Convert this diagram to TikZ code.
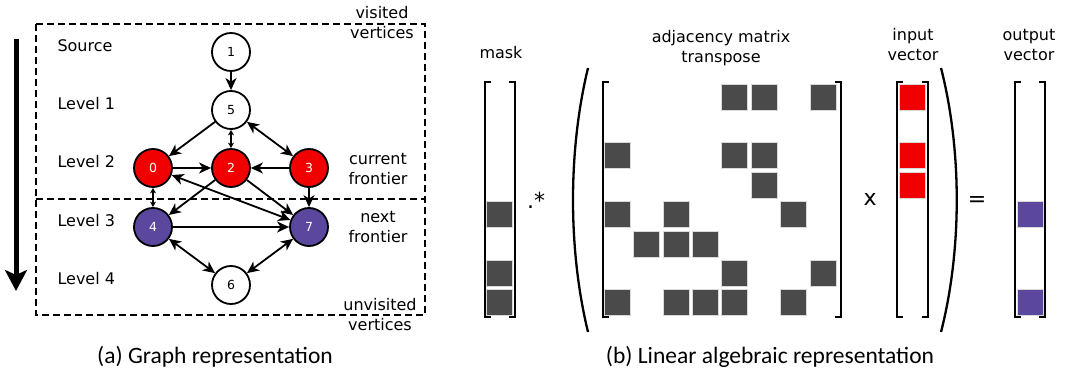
\documentclass[tikz,border=0pt]{standalone}
\usepackage{fontspec}
\setmainfont{DejaVu Sans}
\newfontfamily\capfont{Carlito}
\usetikzlibrary{arrows.meta}
\definecolor{frontred}{RGB}{240,0,0}
\definecolor{nextpurple}{RGB}{91,71,158}
\definecolor{cellgray}{RGB}{74,74,74}

% Pair of square brackets from x=#1 to x=#2
\newcommand{\drawbrackets}[2]{
    % left bracket
    \draw[line width=2.8pt] (#1+6,82) -- (#1,82) -- (#1,317) -- (#1+6,317);
    % right bracket
    \draw[line width=2.8pt] (#2-6,82) -- (#2,82) -- (#2,317) -- (#2-6,317);
}

% One filled cell, top left corner at (#1,#2)
\newcommand{\drawcell}[3]{
    \filldraw[fill=#3, draw=gray!30, line width=0.6pt] (#1,#2) rectangle ++(26,26);
}

\tikzset{
    vtx/.style={circle, draw, line width=1.8pt, minimum size=38pt, inner sep=0pt,
        fill=white, font=\fontsize{12.5}{14}\selectfont},
    frontier/.style={vtx, fill=frontred, text=white},
    nextfront/.style={vtx, fill=nextpurple, text=white},
    edge/.style={line width=1.8pt, -{Stealth[length=12pt,width=11pt,inset=3.5pt]}},
    bothedge/.style={line width=1.8pt, {Stealth[length=12pt,width=11pt,inset=3.5pt]}-{Stealth[length=12pt,width=11pt,inset=3.5pt]}},
    shortedge/.style={line width=1.4pt, {Stealth[length=5.5pt,width=6pt]}-{Stealth[length=5.5pt,width=6pt]}},
    lbl/.style={font=\fontsize{16}{20}\selectfont},
    sidelbl/.style={lbl, align=center, inner sep=0pt},
    opsym/.style={font=\fontsize{22}{24}\selectfont, inner sep=0pt},
    caption/.style={font=\capfont\fontsize{23.5}{26}\selectfont}
}

\begin{document}
\begin{tikzpicture}[x=1pt, y=-1pt]
    \useasboundingbox (0,0) rectangle (1068,379);

    % ---- (a) graph ----
    % dashed boxes
    \draw[line width=1.5pt, dash pattern=on 7pt off 4pt] (36,24) rectangle (425,315);
    \draw[line width=1.5pt, dash pattern=on 7pt off 4pt] (36,199) -- (425,199);

    % level arrow
    \coordinate (atop) at (16,39);
    \coordinate (abot) at (16,291);
    \draw[line width=5pt, -{Stealth[length=21pt,width=22pt,inset=5pt]}] (atop) -- (abot);

    % level labels
    \node[lbl, anchor=west] (lsrc) at (54,46) {Source};
    \node[lbl, anchor=west] (lone) at (54,104) {Level 1};
    \node[lbl, anchor=west] (ltwo) at (54,162) {Level 2};
    \node[lbl, anchor=west] (lthree) at (54,221) {Level 3};
    \node[lbl, anchor=west] (lfour) at (54,279) {Level 4};

    % side labels
    \node[sidelbl] (visited) at (382,23) {visited\\vertices};
    \node[sidelbl] (current) at (378,169) {current\\frontier};
    \node[sidelbl] (next) at (378,227) {next\\frontier};
    \node[sidelbl] (unvisited) at (380,315) {unvisited\\vertices};

    % vertices
    \node[vtx] (v1) at (231,52) {1};
    \node[vtx] (v5) at (231,110) {5};
    \node[frontier] (v0) at (153,168) {0};
    \node[frontier] (v2) at (231,168) {2};
    \node[frontier] (v3) at (309,168) {3};
    \node[nextfront] (v4) at (153,227) {4};
    \node[nextfront] (v7) at (309,227) {7};
    \node[vtx] (v6) at (231,285) {6};

    % edges
    \draw[edge] (v1) -- (v5);
    \draw[edge] (v5) -- (v0);
    \draw[shortedge] (v5) -- (v2);
    \draw[bothedge] (v5) -- (v3);
    \draw[edge] (v0) -- (v2);
    \draw[edge] (v3) -- (v2);
    \draw[shortedge] (v0) -- (v4);
    \draw[edge] (v2) -- (v4);
    \draw[edge] (v2) -- (v7);
    \draw[bothedge] (v0) -- (v7);
    \draw[edge] (v3) -- (v7);
    \draw[edge] (v4) -- (v7);
    \draw[bothedge] (v4) -- (v6);
    \draw[bothedge] (v6) -- (v7);

    % ---- (b) linear algebra ----
    % labels
    \node[lbl] (masklbl) at (501,53) {mask};
    \node[sidelbl] (adjlbl) at (721,48) {adjacency matrix\\transpose};
    \node[sidelbl] (inlbl) at (913,45) {input\\vector};
    \node[sidelbl] (outlbl) at (1029,45) {output\\vector};

    % brackets
    \drawbrackets{485}{515}
    \drawbrackets{603}{841}
    \drawbrackets{897}{928}
    \drawbrackets{1015}{1045}

    % big parentheses
    \draw[line width=2.3pt] (588,68) .. controls (568,150) and (568,250) .. (588,332);
    \draw[line width=2.3pt] (941,68) .. controls (962,150) and (962,250) .. (941,332);

    % mask cells
    \foreach \r in {4,6,7}
        {\drawcell{486}{84+29.4*\r}{cellgray}}

    % matrix cells
    \foreach \r/\c in {0/4,0/5,0/7,2/0,2/4,2/5,3/5,4/0,4/2,4/6,
                       5/1,5/2,5/3,6/4,6/7,7/0,7/2,7/3,7/4,7/6}
        {\drawcell{604+29.4*\c}{84+29.4*\r}{cellgray}}

    % input and output vectors
    \foreach \r in {0,2,3}
        {\drawcell{899}{84+29.4*\r}{frontred}}
    \foreach \r in {4,7}
        {\drawcell{1017}{84+29.4*\r}{nextpurple}}

    % operators
    \node[opsym, anchor=base west] (emul) at (527,209) {.*};
    \node[opsym, anchor=base] (times) at (870,206) {x};
    \node[opsym, anchor=base] (equals) at (977,207) {=};

    % captions
    \node[caption] (capa) at (215,357) {(a) Graph representation};
    \node[caption] (capb) at (770,357) {(b) Linear algebraic representation};
\end{tikzpicture}
\end{document}
